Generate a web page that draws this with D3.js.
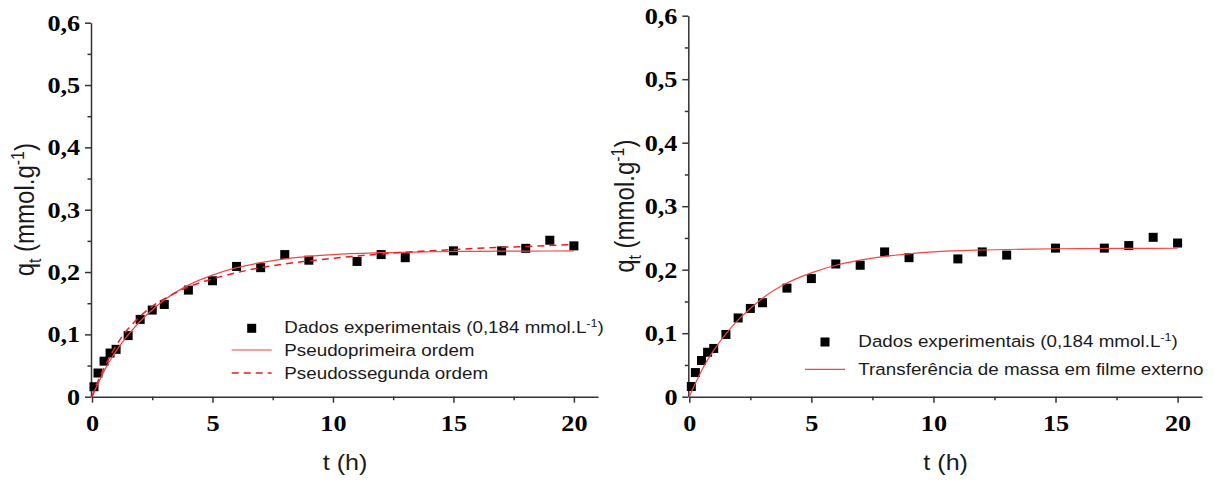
<!DOCTYPE html>
<html>
<head>
<meta charset="utf-8">
<script src="https://cdn.jsdelivr.net/npm/d3@7"></script>
<style>
  body { margin: 0; background: #fff; }
  svg { display: block; }
  .tick text { font-family: "Liberation Serif", "Times New Roman", serif; font-weight: bold; font-size: 23px; fill: #000; }
  .axis path, .axis line { stroke: #333; stroke-width: 1.5px; }
  .lbl { font-family: "Liberation Sans", Arial, sans-serif; fill: #1a1a1a; }
</style>
</head>
<body>
<svg id="chart" width="1215" height="483"></svg>
<script>
const tHours = [0.083, 0.25, 0.5, 0.75, 1, 1.5, 2, 2.5, 3, 4, 5, 6, 7, 8, 9, 11, 12, 13, 15, 17, 18, 19, 20];
const qExp   = [0.016, 0.038, 0.057, 0.070, 0.076, 0.098, 0.124, 0.139, 0.148, 0.171, 0.186, 0.209, 0.207, 0.228, 0.219, 0.217, 0.228, 0.223, 0.234, 0.234, 0.238, 0.251, 0.242];

// curvas ajustadas
const fitT  = [0, 0.25, 0.5, 0.75, 1, 1.5, 2, 2.5, 3, 4, 5, 6, 7, 8, 9, 10, 12, 14, 16, 18, 20];
const qPFO  = [0, 0.021, 0.041, 0.058, 0.073, 0.099, 0.121, 0.139, 0.155, 0.179, 0.195, 0.207, 0.215, 0.221, 0.225, 0.228, 0.231, 0.2325, 0.2333, 0.2336, 0.2338];
const qPSO  = [0, 0.025, 0.046, 0.065, 0.082, 0.109, 0.129, 0.145, 0.157, 0.176, 0.189, 0.199, 0.207, 0.213, 0.218, 0.222, 0.229, 0.234, 0.238, 0.241, 0.244];
const qFilm = [0, 0.021, 0.041, 0.058, 0.073, 0.099, 0.121, 0.139, 0.155, 0.179, 0.195, 0.207, 0.215, 0.221, 0.225, 0.228, 0.231, 0.2325, 0.2333, 0.2336, 0.2338];

const xTicks = [0, 5, 10, 15, 20];
const xMinor = [2.5, 7.5, 12.5, 17.5];
const yTicks = [0, 0.1, 0.2, 0.3, 0.4, 0.5, 0.6];
const yMinor = [0.05, 0.15, 0.25, 0.35, 0.45, 0.55];

const legendExp = "Dados experimentais (0,184 mmol.L";
const SX = 1.14; // texto um pouco esticado na horizontal
const MK = 9;    // lado do marcador

const svg = d3.select('#chart');
const ptBR = d3.formatLocale({ decimal: ',', thousands: '.', grouping: [3], currency: ['R$', ''] });
const fmt1 = ptBR.format('.1f');

function drawPanel(opt) {
    const x = d3.scaleLinear().domain([0, 21]).range([opt.x0, opt.x1]);
    const y = d3.scaleLinear().domain([0, 0.6]).range([opt.y0, opt.y1]);
    const g = svg.append('g');

    // eixos
    const yAx = g.append('g').attr('class', 'axis').attr('transform', `translate(${opt.x0 - 1},0)`)
        .call(d3.axisLeft(y).tickValues(yTicks).tickSize(6).tickSizeOuter(0).tickPadding(3.5)
            .tickFormat(d => d === 0 ? '0' : fmt1(d)));
    yAx.selectAll('.tick text').attr('transform', `scale(${SX},1)`);
    g.append('g').attr('class', 'axis').attr('transform', `translate(${opt.x0 - 1},0)`)
        .call(d3.axisLeft(y).tickValues(yMinor).tickSize(3.5).tickSizeOuter(0).tickFormat(''))
        .select('.domain').remove();

    const xAx = g.append('g').attr('class', 'axis').attr('transform', `translate(0,${opt.y0})`)
        .call(d3.axisBottom(x).tickValues(xTicks).tickSize(6).tickSizeOuter(0).tickPadding(12)
            .tickFormat(d3.format('d')));
    xAx.selectAll('.tick text').attr('transform', `scale(${SX},1)`);
    g.append('g').attr('class', 'axis').attr('transform', `translate(0,${opt.y0})`)
        .call(d3.axisBottom(x).tickValues(xMinor).tickSize(3.5).tickSizeOuter(0).tickFormat(''))
        .select('.domain').remove();

    // titulos
    g.append('text').attr('class', 'lbl')
        .attr('transform', `translate(${(opt.x0 + opt.x1) / 2},470) scale(${SX},1)`)
        .attr('text-anchor', 'middle').style('font-size', '22px').text('t (h)');

    const yt = g.append('text').attr('class', 'lbl')
        .attr('transform', `translate(${opt.yTitleX},${(opt.y0 + opt.y1) / 2}) scale(${SX},1) rotate(-90)`)
        .attr('text-anchor', 'middle').style('font-size', '24px');
    yt.append('tspan').text('q');
    yt.append('tspan').attr('dy', 6).style('font-size', '16px').text('t');
    yt.append('tspan').attr('dy', -6).text(' (mmol.g');
    yt.append('tspan').attr('dy', -9).style('font-size', '16px').text('-1');
    yt.append('tspan').attr('dy', 9).text(')');

    // pontos
    g.append('g').selectAll('rect').data(tHours).join('rect')
        .attr('x', d => x(d) - MK / 2).attr('y', (d, i) => y(qExp[i]) - MK / 2)
        .attr('width', MK).attr('height', MK).attr('fill', '#000');

    // curvas
    opt.curves.forEach(c => {
        const line = d3.line().x((d, i) => x(fitT[i])).y(d => y(d)).curve(d3.curveMonotoneX);
        g.append('path').datum(c.values).attr('d', line)
            .attr('fill', 'none').attr('stroke', c.color).attr('stroke-width', c.width)
            .attr('stroke-dasharray', c.dash || null);
    });

    // legenda
    const lg = opt.legend;
    g.append('rect').attr('x', lg.markX - MK / 2).attr('y', lg.rows[0] - MK / 2)
        .attr('width', MK).attr('height', MK).attr('fill', '#000');
    const t0 = g.append('text').attr('class', 'lbl')
        .attr('transform', `translate(${lg.textX},${lg.rows[0] + 5}) scale(${SX},1)`).style('font-size', '16.5px');
    t0.append('tspan').text(legendExp);
    t0.append('tspan').attr('dy', -6).style('font-size', '11px').text('-1');
    t0.append('tspan').attr('dy', 6).text(')');

    opt.curves.forEach((c, i) => {
        const ry = lg.rows[i + 1];
        g.append('line').attr('x1', lg.lineX0).attr('x2', lg.lineX1).attr('y1', ry).attr('y2', ry)
            .attr('stroke', c.color).attr('stroke-width', c.width).attr('stroke-dasharray', c.dash || null);
        g.append('text').attr('class', 'lbl')
            .attr('transform', `translate(${lg.textX},${ry + 6}) scale(${SX},1)`)
            .style('font-size', '16.5px').text(c.name);
    });
}

drawPanel({
    x0: 92, x1: 598, y0: 396.7, y1: 22.7, yTitleX: 34,
    curves: [
        { name: 'Pseudoprimeira ordem', values: qPFO, color: '#f24545', width: 1.2 },
        { name: 'Pseudossegunda ordem', values: qPSO, color: '#e51f26', width: 1.5, dash: '7,5' }
    ],
    legend: { markX: 251.7, textX: 284.3, lineX0: 231.7, lineX1: 271.7, rows: [328.3, 350, 373] }
});

drawPanel({
    x0: 689.3, x1: 1202, y0: 396.7, y1: 15.7, yTitleX: 634,
    curves: [
        { name: 'Transferência de massa em filme externo', values: qFilm, color: '#f24545', width: 1.2 }
    ],
    legend: { markX: 825, textX: 858.3, lineX0: 805, lineX1: 845, rows: [342, 369.3] }
});
</script>
</body>
</html>
